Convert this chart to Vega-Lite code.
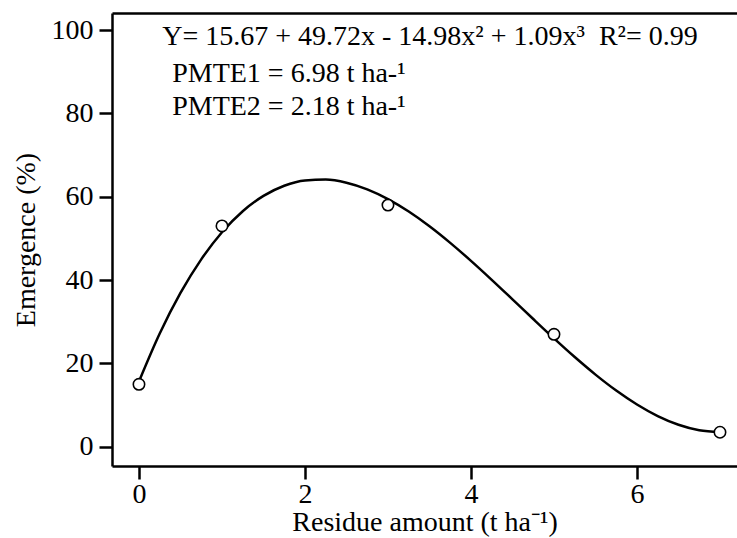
{
  "$schema": "https://vega.github.io/schema/vega-lite/v6.json",
  "width": 625,
  "height": 453,
  "autosize": {"type": "none"},
  "padding": {"left": 112, "top": 13, "right": 0, "bottom": 72},
  "background": "white",
  "config": {
    "view": {"stroke": null},
    "font": "Liberation Serif",
    "axis": {
      "grid": false,
      "domainColor": "black",
      "domainWidth": 2.5,
      "tickColor": "black",
      "tickWidth": 2.5,
      "tickSize": 13,
      "labelFont": "Liberation Serif",
      "labelFontSize": 28,
      "labelColor": "black",
      "titleFont": "Liberation Serif",
      "titleFontSize": 28,
      "titleFontWeight": "normal",
      "titleColor": "black"
    }
  },
  "datasets": {
    "fit": [
      {"x": 0, "y": 15.67}, {"x": 0.25, "y": 27.18}, {"x": 0.5, "y": 36.92}, {"x": 0.75, "y": 44.99},
      {"x": 1, "y": 51.5}, {"x": 1.25, "y": 56.54}, {"x": 1.5, "y": 60.22}, {"x": 1.75, "y": 62.65},
      {"x": 2, "y": 63.91}, {"x": 2.25, "y": 64.12}, {"x": 2.5, "y": 63.38}, {"x": 2.75, "y": 61.78},
      {"x": 3, "y": 59.44}, {"x": 3.25, "y": 56.45}, {"x": 3.5, "y": 52.92}, {"x": 3.75, "y": 48.94},
      {"x": 4, "y": 44.63}, {"x": 4.25, "y": 40.08}, {"x": 4.5, "y": 35.39}, {"x": 4.75, "y": 30.67},
      {"x": 5, "y": 26.02}, {"x": 5.25, "y": 21.54}, {"x": 5.5, "y": 17.33}, {"x": 5.75, "y": 13.5},
      {"x": 6, "y": 10.15}, {"x": 6.25, "y": 7.38}, {"x": 6.5, "y": 5.29}, {"x": 6.75, "y": 3.98},
      {"x": 7, "y": 3.56}
    ],
    "obs": [
      {"x": 0, "y": 15}, {"x": 1, "y": 53}, {"x": 3, "y": 58}, {"x": 5, "y": 27}, {"x": 7, "y": 3.5}
    ],
    "notes": [
      {"x": 0.28, "y": 96.4, "label": "Y= 15.67 + 49.72x - 14.98x² + 1.09x³\u00a0\u00a0R²= 0.99"},
      {"x": 0.4, "y": 87.5, "label": "PMTE1 = 6.98 t ha-¹"},
      {"x": 0.4, "y": 79.6, "label": "PMTE2 = 2.18 t ha-¹"}
    ]
  },
  "layer": [
    {
      "data": {"name": "fit"},
      "mark": {"type": "line", "color": "black", "strokeWidth": 2.5, "interpolate": "monotone"},
      "encoding": {
        "x": {"field": "x", "type": "quantitative",
              "scale": {"domain": [-0.325, 7.205], "nice": false, "zero": false},
              "axis": {"orient": "bottom", "values": [0, 2, 4, 6], "title": "Residue amount (t ha⁻¹)", "titlePadding": 0, "labelPadding": 1}},
        "y": {"field": "y", "type": "quantitative",
              "scale": {"domain": [-4.6, 104.1], "nice": false, "zero": false},
              "axis": {"values": [0, 20, 40, 60, 80, 100], "title": "Emergence (%)", "titlePadding": 11, "labelPadding": 6}}
      }
    },
    {
      "data": {"name": "obs"},
      "mark": {"type": "point", "shape": "circle", "size": 130, "filled": false, "fill": "white", "fillOpacity": 1, "stroke": "black", "strokeWidth": 1.6, "opacity": 1},
      "encoding": {
        "x": {"field": "x", "type": "quantitative",
              "axis": {"orient": "top", "labels": false, "ticks": false, "title": null}},
        "y": {"field": "y", "type": "quantitative"}
      }
    },
    {
      "data": {"name": "notes"},
      "mark": {"type": "text", "align": "left", "baseline": "alphabetic", "font": "Liberation Serif", "fontSize": 28, "color": "black"},
      "encoding": {
        "x": {"field": "x", "type": "quantitative", "axis": null},
        "y": {"field": "y", "type": "quantitative"},
        "text": {"field": "label"}
      }
    }
  ],
  "resolve": {"axis": {"x": "independent"}}
}
